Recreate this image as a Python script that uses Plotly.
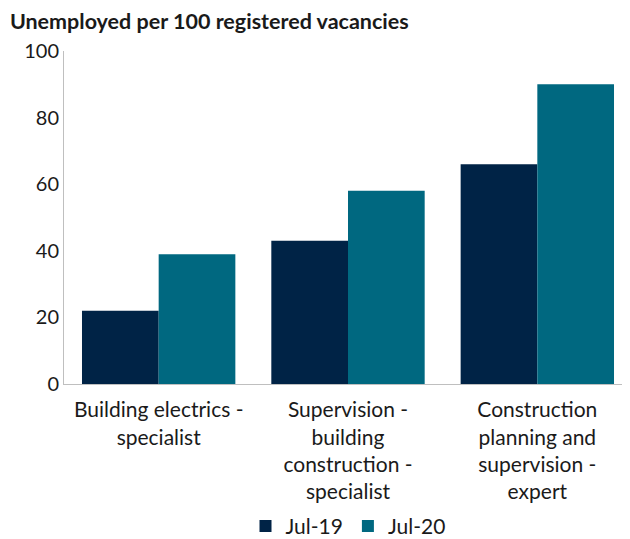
import plotly.graph_objects as go

categories = ["Building electrics -<br>specialist",
              "Supervision -<br>building<br>construction -<br>specialist",
              "Construction<br>planning and<br>supervision -<br>expert"]
jul_19 = [22, 43, 66]
jul_20 = [39, 58, 90]

fig = go.Figure()

fig.add_trace(go.Bar(x=categories, y=jul_19, name="Jul-19",
                     marker={"color": "#002346", "line": {"width": 0}}))
fig.add_trace(go.Bar(x=categories, y=jul_20, name="Jul-20",
                     marker={"color": "#006880", "line": {"width": 0}}))

# page body has an 8px margin, so the figure is shifted by 8px
fig.update_layout(width=630, height=531,
                  margin={"l": 56, "r": 6, "t": 43, "b": 155},
                  paper_bgcolor="white",
                  plot_bgcolor="white",
                  font={"family": "Lato", "size": 20, "color": "#1a1a1a"},
                  title={"text": "<b>Unemployed per 100 registered vacancies</b>",
                         "font": {"size": 21.5, "color": "#1a1a1a"},
                         "x": 0.003, "xanchor": "left",
                         "y": 0.974, "yanchor": "middle"},
                  barmode="group",
                  bargap=0.19,
                  bargroupgap=0,
                  showlegend=True,
                  legend={"orientation": "h",
                          "x": 0.5, "xanchor": "center",
                          "xref": "paper",
                          "y": 0.024, "yanchor": "middle",
                          "yref": "container",
                          "font": {"size": 21}})

fig.update_xaxes(showline=True, linecolor="#bfbfbf", linewidth=1,
                 ticks="", tickfont={"size": 21}, ticklabelstandoff=7,
                 automargin=False)
fig.update_yaxes(range=[0, 100], dtick=20, showgrid=False,
                 showline=True, linecolor="#bfbfbf", linewidth=1,
                 ticks="", tickfont={"size": 20},
                 zeroline=False, automargin=False)

fig.write_html("out.html")
